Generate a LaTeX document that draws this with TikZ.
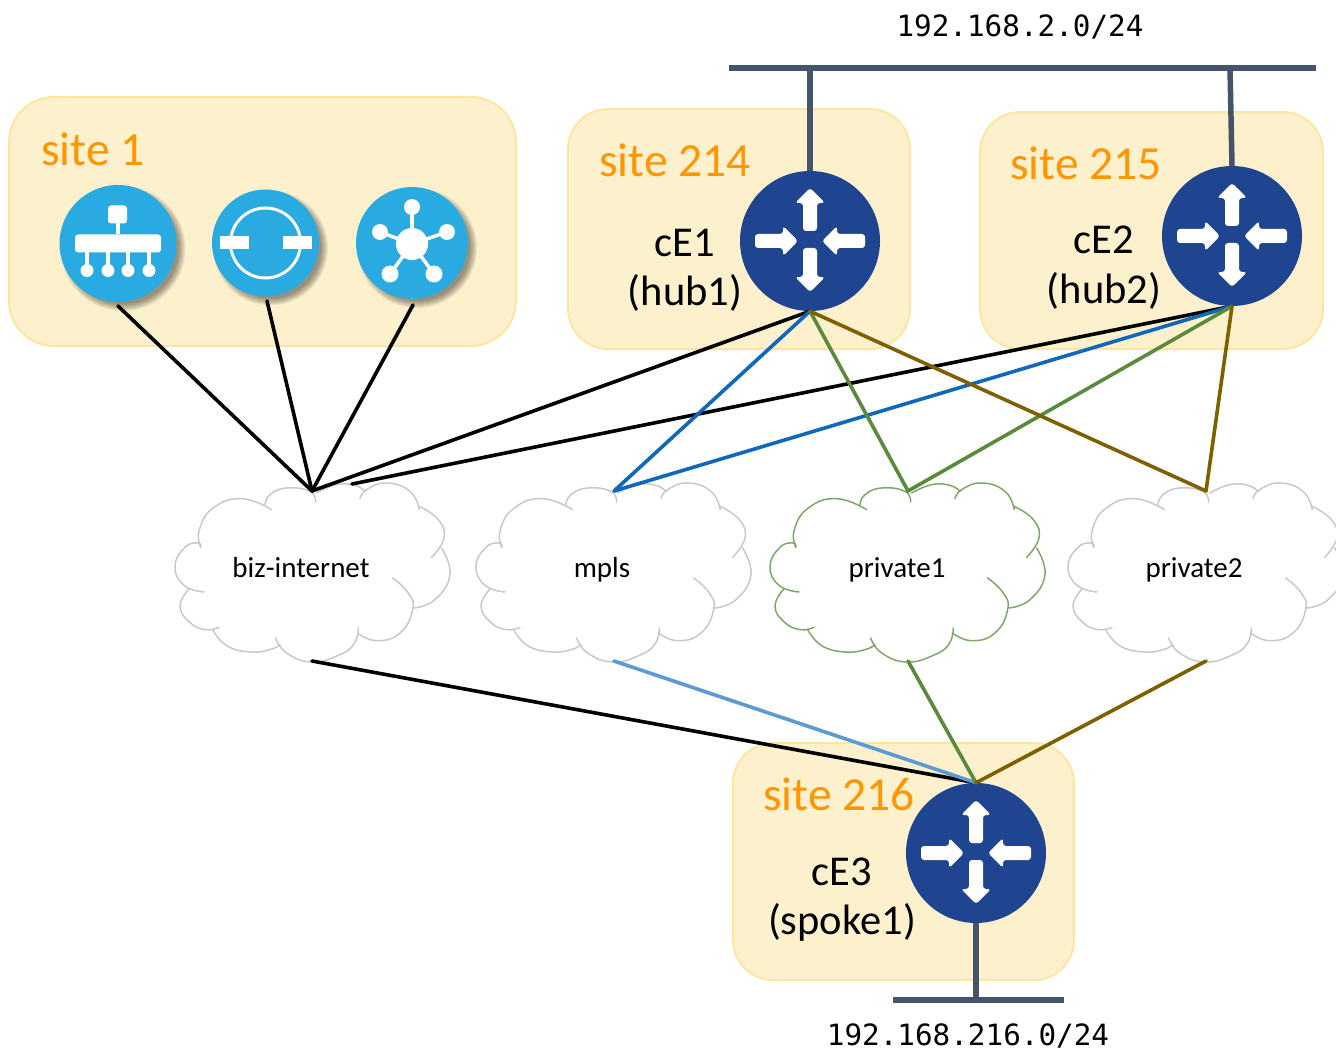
\documentclass[tikz,border=0pt]{standalone}
\usepackage{fontspec}
\setmainfont{Carlito}
\newfontfamily\monof{DejaVu Sans Mono}
\usetikzlibrary{calc}
\definecolor{sitefill}{HTML}{FDF0CC}
\definecolor{siteedge}{HTML}{FFE49C}
\definecolor{siteorange}{HTML}{FF9500}
\definecolor{discblue}{HTML}{29ABE2}
\definecolor{routerblue}{HTML}{1F4590}
\definecolor{barslate}{HTML}{44546A}
\definecolor{linkblue}{HTML}{1068BE}
\definecolor{linklight}{HTML}{5B9BD5}
\definecolor{linkgreen}{HTML}{5A8A3A}
\definecolor{linkbrown}{HTML}{7F6000}
\definecolor{cloudgrey}{HTML}{C8C8C8}
\definecolor{cloudgreen}{HTML}{7FA868}
\newcommand{\rtarrow}[4]{%
  \fill[white,rounded corners=3pt,rotate=#1] (#2,-7) -- (#3,-7) -- (#3,-15) -- (#4,0) -- (#3,15) -- (#3,7) -- (#2,7) -- cycle;}
\newcommand{\softshadow}[3]{%
  \foreach \dr in {4,3,2,1,0,-1,-2,-3}{\fill[black,opacity=.06] (#1+5,#2+5) circle ({#3+\dr});}}
\tikzset{
  x=1pt,y=-1pt,
  sitebox/.style={draw=siteedge,fill=sitefill,line width=1.8pt,rounded corners=#1},
  sitelabel/.style={text=siteorange,font=\fontsize{47.5}{50}\selectfont,inner sep=0pt},
  devlabel/.style={text=black,font=\fontsize{42.5}{46}\selectfont,inner sep=0pt},
  cloudlabel/.style={text=black,font=\fontsize{29}{32}\selectfont,inner sep=0pt,anchor=base},
  netlabel/.style={text=black,font=\monof\fontsize{29.3}{32}\selectfont,inner sep=0pt},
  disc/.style={circle,fill=discblue,minimum size=#1,inner sep=0pt},
  router/.style={circle,fill=routerblue,minimum size=140pt,inner sep=0pt},
  link/.style={line width=3.6pt,line cap=round},
  bar/.style={line width=5.5pt,barslate},
  routerglyph/.pic={
    \rtarrow{-90}{7}{36}{51}
    \rtarrow{90}{10}{38}{53}
    \rtarrow{0}{55}{27}{12}
    \rtarrow{180}{55}{27}{12}
  },
  cloudshape/.pic={
    \begin{scope}[scale=.3333,line width=1.5pt,line cap=round]
    \draw plot[smooth,tension=.8] coordinates {(92,208) (85,195) (45,208) (15,265) (42,322) (102,342)};
    \draw plot[smooth,tension=.8] coordinates {(55,335) (30,385) (58,432) (105,455) (147,448)};
    \draw plot[smooth,tension=.8] coordinates {(128,455) (170,503) (240,522) (300,515) (330,500)};
    \draw plot[smooth,tension=.8] coordinates {(317,480) (350,525) (425,552) (505,532) (552,498) (565,450)};
    \draw plot[smooth,tension=.8] coordinates {(562,465) (620,488) (690,465) (728,395) (715,345) (668,300)};
    \draw plot[smooth,tension=.8] coordinates {(732,390) (795,365) (840,290) (815,210)};
    \draw plot[smooth,tension=.8] coordinates {(785,238) (822,180) (805,125) (748,85)};
    \draw plot[smooth,tension=.8] coordinates {(748,95) (720,40) (650,15) (590,35) (570,62)};
    \draw plot[smooth,tension=.8] coordinates {(440,45) (500,20) (555,22) (585,40)};
    \draw plot[smooth,tension=.8] coordinates {(437,72) (420,40) (350,30) (300,50) (285,80)};
    \draw plot[smooth,tension=.8] coordinates {(305,95) (215,62) (130,90) (88,155) (92,208)};
    \end{scope}
  }
}
\begin{document}
\begin{tikzpicture}
\path[use as bounding box] (0,0) rectangle (1336,1051);
% site boxes
\node[sitebox=45pt,minimum width=507pt,minimum height=249pt] (site1) at (262.5,221.5) {};
\node[sitebox=40pt,minimum width=342pt,minimum height=240pt] (site214) at (739,229) {};
\node[sitebox=40pt,minimum width=343pt,minimum height=237pt] (site215) at (1151.5,230.5) {};
\node[sitebox=40pt,minimum width=341pt,minimum height=237pt] (site216) at (903.5,861.5) {};
\node[sitelabel,anchor=west] (l1) at (41,149) {site 1};
\node[sitelabel] (l214) at (675,160) {site 214};
\node[sitelabel] (l215) at (1086,163) {site 215};
\node[sitelabel] (l216) at (839,794) {site 216};
% clouds
\pic[draw=cloudgrey] at (170,478) {cloudshape};
\pic[draw=cloudgrey] at (471,478) {cloudshape};
\pic[draw=cloudgreen] at (765,478) {cloudshape};
\pic[draw=cloudgrey] at (1063,478) {cloudshape};
\node[cloudlabel] (biz) at (301,577) {biz-internet};
\node[cloudlabel] (mpls) at (602,577) {mpls};
\node[cloudlabel] (p1) at (897,577) {private1};
\node[cloudlabel] (p2) at (1194,577) {private2};
% attachment points
\coordinate (bizT) at (312,491);
\coordinate (bizU) at (352,484);
\coordinate (mplsT) at (614,491);
\coordinate (p1T) at (908,491);
\coordinate (p2T) at (1206,491);
\coordinate (bizB) at (312,661);
\coordinate (mplsB) at (614,661);
\coordinate (p1B) at (908,661);
\coordinate (p2B) at (1206,661);
\coordinate (a1) at (118,306);
\coordinate (b1) at (267,301);
\coordinate (c1) at (413,305);
\coordinate (barTL) at (729,68);
\coordinate (barTR) at (1316,68);
\coordinate (barT1) at (810,68);
\coordinate (barT2) at (1230,68);
\coordinate (barBL) at (893,1000);
\coordinate (barBR) at (1064,1000);
\coordinate (barB) at (976,1000);
% routers
\node[router] (R1) at (810,241) {};
\node[router] (R2) at (1232,236) {};
\node[router] (R3) at (976,853) {};
% connectors
\draw[bar] (barTL) -- (barTR);
\draw[bar] (barBL) -- (barBR);
\draw[bar] (barT1) -- (R1.north);
\draw[bar] (barT2) -- (R2.north);
\draw[bar] (R3.south) -- (barB);
\draw[link] (a1) -- (bizT);
\draw[link] (b1) -- (bizT);
\draw[link] (c1) -- (bizT);
\draw[link] (R1.south) -- (bizT);
\draw[link] (R2.south) -- (bizU);
\draw[link,linkblue] (R1.south) -- (mplsT);
\draw[link,linkblue] (R2.south) -- (mplsT);
\draw[link,linkgreen] (R1.south) -- (p1T);
\draw[link,linkgreen] (R2.south) -- (p1T);
\draw[link,linkbrown] (R1.south) -- (p2T);
\draw[link,linkbrown] (R2.south) -- (p2T);
\draw[link] (bizB) -- (R3.north);
\draw[link,linklight] (mplsB) -- (R3.north);
\draw[link,linkgreen] (p1B) -- (R3.north);
\draw[link,linkbrown] (p2B) -- (R3.north);
% router glyphs
\pic at (R1.center) {routerglyph};
\pic at (R2.center) {routerglyph};
\pic at (R3.center) {routerglyph};
% device labels
\node[devlabel] (n1) at (685,243) {cE1};
\node[devlabel] (n1b) at (685,293) {(hub1)};
\node[devlabel] (n2) at (1104,240) {cE2};
\node[devlabel] (n2b) at (1104,291) {(hub2)};
\node[devlabel] (n3) at (842,872) {cE3};
\node[devlabel] (n3b) at (842,922) {(spoke1)};
% network labels
\node[netlabel] (net2) at (1020,27) {192.168.2.0/24};
\node[netlabel] (net216) at (968,1035.5) {192.168.216.0/24};
% site 1 icons
\softshadow{118}{243.5}{58.5}
\softshadow{265.5}{243}{53.5}
\softshadow{412}{243}{56}
\node[disc=117pt] (A) at (118,243.5) {};
\node[disc=107pt] (B) at (265.5,243) {};
\node[disc=112pt] (C) at (412,243) {};
% icon A
\begin{scope}[shift={(A.center)}]
  \fill[white,rounded corners=3pt] (-10,-38) rectangle (9,-20);
  \fill[white,rounded corners=3pt] (-43,-9) rectangle (43,9);
  \draw[white,line width=3.5pt] (0,-20) -- (0,-9);
  \foreach \lx in {-31,-10,10,31}{
    \draw[white,line width=3.5pt] (\lx,9) -- (\lx,27);
    \fill[white] (\lx,27) circle (6.5);
  }
\end{scope}
% icon B
\begin{scope}[shift={(B.center)}]
  \draw[white,line width=3pt] (0,0) circle (35);
  \fill[white] (-46,-6.5) rectangle (-17,6.5);
  \fill[white] (17,-6.5) rectangle (46,6.5);
\end{scope}
% icon C
\begin{scope}[shift={(C.center)}]
  \fill[white] (0,1) circle (16);
  \foreach \ix/\iy/\ir in {0/-36/8,-32/-11/8,35/-11/8,-22/31/8.5,22/31/8.5}{
    \draw[white,line width=3.5pt] (0,1) -- (\ix,\iy);
    \fill[white] (\ix,\iy) circle (\ir);
  }
\end{scope}
\end{tikzpicture}
\end{document}
